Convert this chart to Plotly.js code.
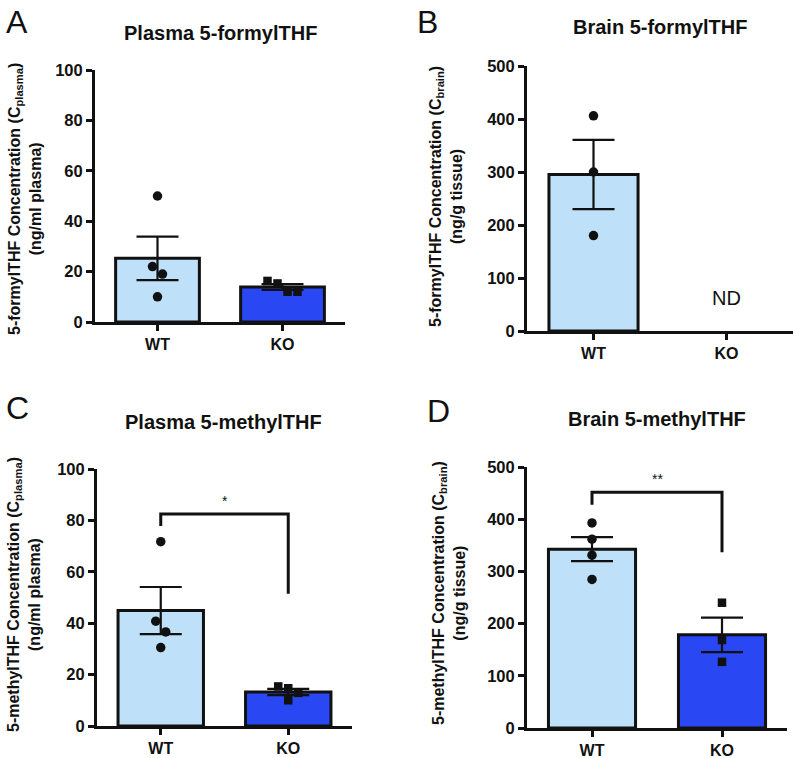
<!DOCTYPE html>
<html>
<head>
<meta charset="utf-8">
<script src="https://cdn.plot.ly/plotly-3.0.1.min.js"></script>
<style>html,body{margin:0;padding:0;background:#fff;}#chart{width:793px;height:758px;}</style>
</head>
<body>
<div id="chart"></div>
<script>
// ---------- data ----------
const groups = ['WT', 'KO'];
const panelLetters = ['A', 'B', 'C', 'D'];
const panelTitles = ['Plasma 5-formylTHF', 'Brain 5-formylTHF', 'Plasma 5-methylTHF', 'Brain 5-methylTHF'];
const yTitleLine1 = [
  '5-formylTHF Concentration (C<sub>plasma</sub>)',
  '5-formylTHF Concentration (C<sub>brain</sub>)',
  '5-methylTHF Concentration (C<sub>plasma</sub>)',
  '5-methylTHF Concentration (C<sub>brain</sub>)'
];
const yTitleLine2 = ['(ng/ml plasma)', '(ng/g tissue)', '(ng/ml plasma)', '(ng/g tissue)'];
const yMax = [100, 500, 100, 500];
const yStep = [20, 100, 20, 100];

const plasmaFormylWT = [50, 22, 19, 10];
const plasmaFormylKO = [16.3, 15.3, 12, 12];
const brainFormylWT = [406, 300, 180];
const brainFormylKO = [];            // not detected
const plasmaMethylWT = [71.7, 40.8, 36.6, 30.5];
const plasmaMethylKO = [15.4, 14.7, 12.9, 10];
const brainMethylWT = [392.8, 361.7, 331, 284.7];
const brainMethylKO = [240, 168.7, 126.7];

const significance = ['', '', '*', '**'];
const notDetectedLabel = 'ND';

// ---------- layout / style ----------
const W = 793, H = 758;
const FONT = '"Liberation Sans", Arial, Helvetica, sans-serif';
const INK = '#111111';
const WT_COLOR = '#BEE0F8';
const KO_COLOR = '#2A47F4';
// pixel boxes of each plot area [left, top, right, bottom]
const boxes = [
  [95, 70, 345, 322],
  [527, 66, 793, 331],
  [97, 469, 352, 726],
  [527, 467, 787, 728]
];
const titleCenters = [[220, 33], [660, 27], [223, 422], [657, 419]];
const letterCenters = [[17, 22], [427, 22], [17, 408], [438, 411]];
const yTitleCenters = [[25, 199], [446, 197], [24, 595], [449, 593]];
const bracketStyle = [null, null, {top: 1.15, leftDrop: 0.046, rightDrop: 0.31}, {top: 1.15, leftDrop: 0.048, rightDrop: 0.23}];

const panelData = [
  [plasmaFormylWT, plasmaFormylKO],
  [brainFormylWT, brainFormylKO],
  [plasmaMethylWT, plasmaMethylKO],
  [brainMethylWT, brainMethylKO]
];

function mean(a) { return a.reduce((s, v) => s + v, 0) / a.length; }
function sem(a) {
  const m = mean(a);
  const sd = Math.sqrt(a.reduce((s, v) => s + (v - m) * (v - m), 0) / (a.length - 1));
  return sd / Math.sqrt(a.length);
}
// simple centred beeswarm: points whose values are closer than thresholdPx share a row
function swarm(vals, pxPerUnit, thresholdPx, stepCat) {
  const idx = vals.map((v, i) => i).sort((a, b) => vals[b] - vals[a]);
  const offs = new Array(vals.length).fill(0);
  let row = [];
  const flush = () => { row.forEach((i, k) => { offs[i] = (k - (row.length - 1) / 2) * stepCat; }); row = []; };
  idx.forEach(i => {
    if (row.length && (vals[row[0]] - vals[i]) * pxPerUnit >= thresholdPx) flush();
    row.push(i);
  });
  flush();
  return offs;
}

const traces = [];
const layout = {
  width: W, height: H,
  margin: {l: 0, r: 0, t: 0, b: 0},
  paper_bgcolor: '#ffffff', plot_bgcolor: '#ffffff',
  showlegend: false,
  font: {family: FONT, color: INK},
  annotations: [], shapes: []
};

panelData.forEach((pd, p) => {
  const n = p + 1;
  const xa = 'x' + (n === 1 ? '' : n), ya = 'y' + (n === 1 ? '' : n);
  const xk = 'xaxis' + (n === 1 ? '' : n), yk = 'yaxis' + (n === 1 ? '' : n);
  const [L, T, R, B] = boxes[p];
  const pxPerUnit = (B - T) / yMax[p];
  const pxPerCat = (R - L) / 2;

  layout[xk] = {
    domain: [L / W, R / W], anchor: ya, range: [-0.5, 1.5], fixedrange: true,
    showline: true, linewidth: 3, linecolor: INK, showgrid: false, zeroline: false,
    ticks: 'outside', ticklen: 6, tickwidth: 3, tickcolor: INK,
    tickvals: [0, 1], ticktext: groups,
    tickfont: {family: FONT, size: 16, color: INK, weight: 'bold'}
  };
  const tv = [];
  for (let v = 0; v <= yMax[p]; v += yStep[p]) tv.push(v);
  layout[yk] = {
    domain: [1 - B / H, 1 - T / H], anchor: xa, range: [0, yMax[p]], fixedrange: true,
    showline: true, linewidth: 3, linecolor: INK, showgrid: false, zeroline: false,
    ticks: 'outside', ticklen: 6, tickwidth: 3, tickcolor: INK,
    tickvals: tv, ticktext: tv.map(String),
    tickfont: {family: FONT, size: 16.5, color: INK, weight: 'bold'}
  };

  const means = pd.map(a => a.length ? mean(a) : null);
  const sems = pd.map(a => a.length > 1 ? sem(a) : null);
  traces.push({
    type: 'bar', x: [0, 1], y: means, xaxis: xa, yaxis: ya, width: 0.67,
    marker: {color: [WT_COLOR, KO_COLOR], line: {color: INK, width: 3}},
    error_y: {type: 'data', array: sems, visible: true, color: INK, thickness: 2.2, width: 21},
    hoverinfo: 'skip'
  });
  pd.forEach((vals, g) => {
    if (!vals.length) return;
    const offs = swarm(vals, pxPerUnit, 11.5, 10 / pxPerCat);
    traces.push({
      type: 'scatter', mode: 'markers', xaxis: xa, yaxis: ya,
      x: vals.map((v, i) => g + offs[i]), y: vals,
      marker: {symbol: g === 0 ? 'circle' : 'square', size: g === 0 ? 9.5 : 8.5, color: INK, line: {width: 0}},
      hoverinfo: 'skip', cliponaxis: false
    });
  });
  pd.forEach((vals, g) => {
    if (!vals.length) {
      layout.annotations.push({
        xref: xa, yref: ya, x: g, y: 0, yanchor: 'bottom', yshift: 20, showarrow: false,
        text: notDetectedLabel, font: {family: FONT, size: 20, color: INK}
      });
    }
  });

  // significance bracket
  if (significance[p]) {
    const bs = bracketStyle[p];
    const allMax = Math.max(...pd[0], ...pd[1]);
    const top = allMax * bs.top;
    const lLow = top - bs.leftDrop * yMax[p];
    const rLow = top - bs.rightDrop * yMax[p];
    layout.shapes.push({
      type: 'path', xref: xa, yref: ya,
      path: `M 0,${lLow} L 0,${top} L 1,${top} L 1,${rLow}`,
      line: {color: INK, width: 3}
    });
    layout.annotations.push({
      xref: xa, yref: ya, x: 0.5, y: top, yanchor: 'bottom', yshift: 3, showarrow: false,
      text: significance[p], font: {family: FONT, size: 14, color: INK}
    });
  }

  // panel title
  layout.annotations.push({
    xref: 'paper', yref: 'paper', x: titleCenters[p][0] / W, y: 1 - titleCenters[p][1] / H,
    xanchor: 'center', yanchor: 'middle', showarrow: false,
    text: panelTitles[p], font: {family: FONT, size: 20, color: INK, weight: 'bold'}
  });
  // panel letter
  layout.annotations.push({
    xref: 'paper', yref: 'paper', x: letterCenters[p][0] / W, y: 1 - letterCenters[p][1] / H,
    xanchor: 'center', yanchor: 'middle', showarrow: false,
    text: panelLetters[p], font: {family: FONT, size: 32, color: INK}
  });
  // y axis title
  layout.annotations.push({
    xref: 'paper', yref: 'paper', x: yTitleCenters[p][0] / W, y: 1 - yTitleCenters[p][1] / H,
    xanchor: 'center', yanchor: 'middle', showarrow: false, textangle: -90,
    text: yTitleLine1[p] + '<br>' + yTitleLine2[p],
    font: {family: FONT, size: 16, color: INK, weight: 'bold'}
  });
});

Plotly.newPlot('chart', traces, layout, {staticPlot: true, displayModeBar: false});
</script>
</body>
</html>
